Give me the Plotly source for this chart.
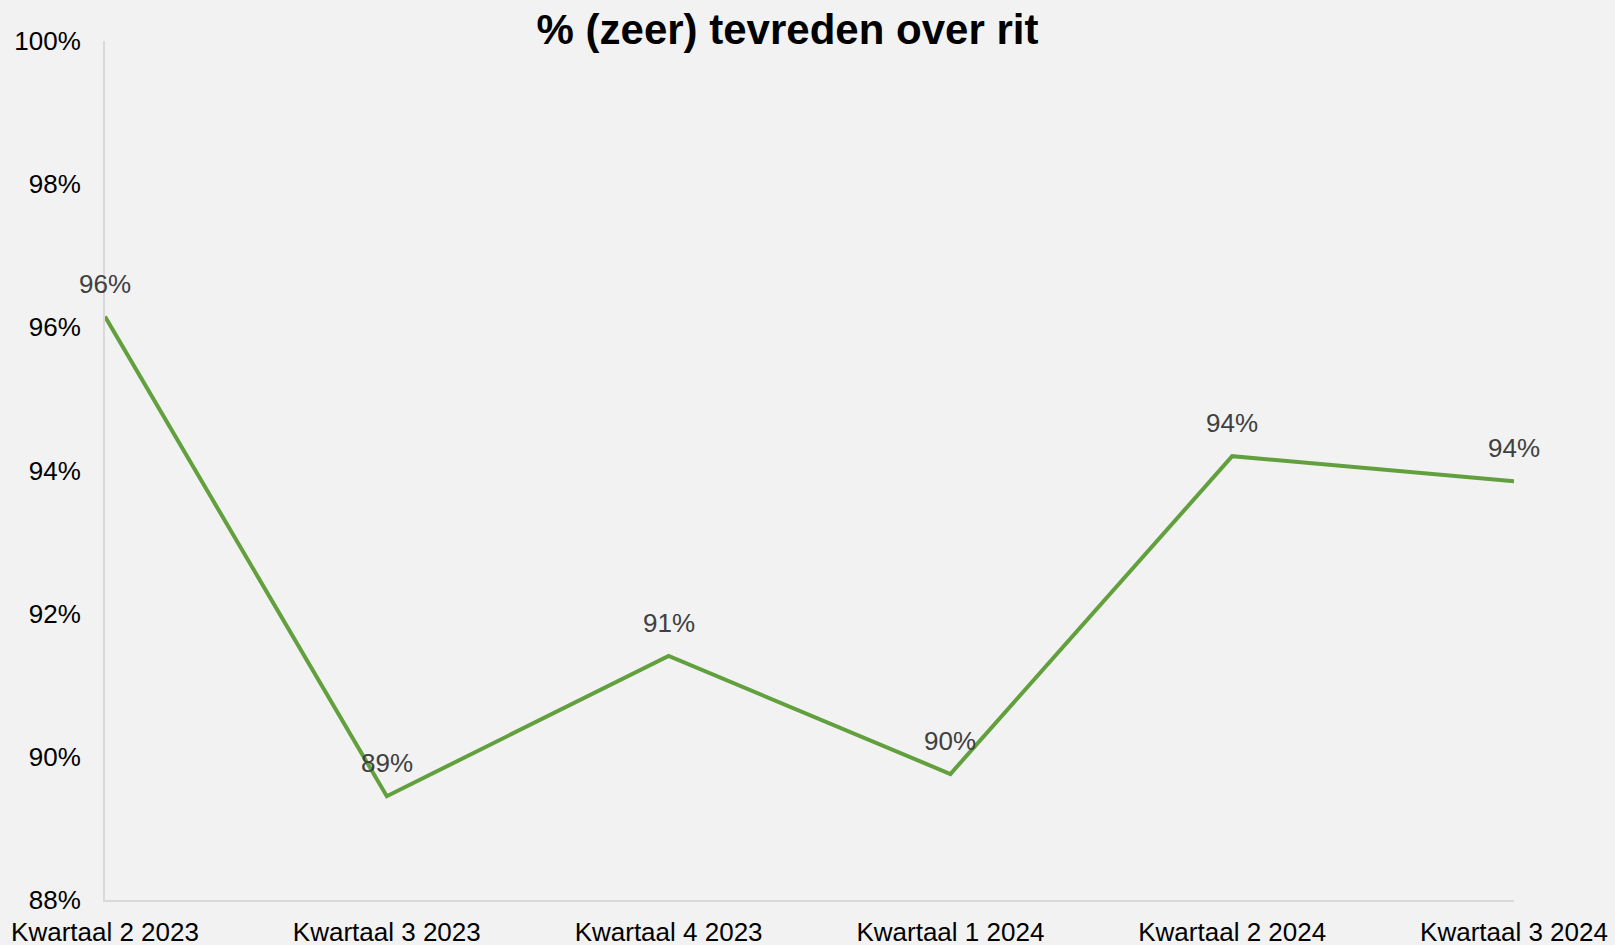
import plotly.graph_objects as go

categories = ["Kwartaal 2 2023", "Kwartaal 3 2023", "Kwartaal 4 2023",
              "Kwartaal 1 2024", "Kwartaal 2 2024", "Kwartaal 3 2024"]
values = [96.15, 89.45, 91.41, 89.76, 94.20, 93.85]
y_ticks = [88, 90, 92, 94, 96, 98, 100]
y_tick_labels = ["88%", "90%", "92%", "94%", "96%", "98%", "100%"]
title_text = "% (zeer) tevreden over rit"

BG = "#F2F2F2"
GREEN = "#62A03E"
AXIS = "#D9D9D9"
FONT = "Liberation Sans, Arial, sans-serif"

fig = go.Figure()
fig.add_trace(go.Scatter(
    x=categories, y=values, mode="lines",
    line=dict(color=GREEN, width=4), hoverinfo="skip", showlegend=False,
))

for c, v in zip(categories, values):
    fig.add_annotation(
        x=c, y=v, text=f"{round(v)}%", showarrow=False, yshift=33,
        font=dict(family=FONT, size=26, color="#404040"),
    )

fig.update_layout(
    width=1615, height=945,
    paper_bgcolor=BG, plot_bgcolor=BG,
    margin=dict(l=105, r=101, t=41, b=45, autoexpand=False),
    title=dict(text=f"<b>{title_text}</b>", x=787.5 / 1615, xref="container",
               xanchor="center", y=1 - 29 / 945, yanchor="middle",
               font=dict(family=FONT, size=42, color="#000000")),
    font=dict(family=FONT, size=26, color="#000000"),
)
fig.update_xaxes(
    type="category", range=[0, len(categories) - 1], automargin=False,
    showline=True, linecolor=AXIS, linewidth=2, showgrid=False,
    ticks="", ticklabelstandoff=8, zeroline=False,
    tickfont=dict(family=FONT, size=26, color="#000000"),
)
fig.update_yaxes(
    range=[88, 100], tickvals=y_ticks, ticktext=y_tick_labels, automargin=False,
    showline=True, linecolor=AXIS, linewidth=2, showgrid=False,
    ticks="", ticklabelstandoff=17, zeroline=False,
    tickfont=dict(family=FONT, size=26, color="#000000"),
)

fig.write_html("out.html", config={"displayModeBar": False},
               post_script="document.body.style.margin='0';")
